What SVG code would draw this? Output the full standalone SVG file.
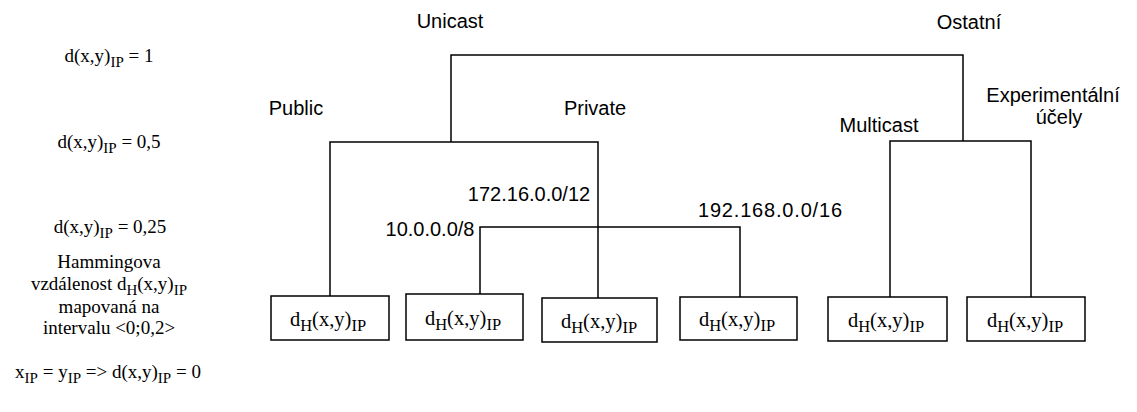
<svg xmlns="http://www.w3.org/2000/svg" width="1137" height="412" viewBox="0 0 1137 412">
  <style>
    .serif { font-family: "Liberation Serif", "Times New Roman", serif; font-size: 19px; fill: #000; }
    .sub { font-size: 15px; }
    .leaf { font-family: "Liberation Serif", "Times New Roman", serif; font-size: 20.5px; fill: #000; }
    .leaf .sub { font-size: 16.5px; }
    .sans { font-family: "Liberation Sans", Arial, Helvetica, sans-serif; font-size: 20px; fill: #000; }
    .edge { fill: none; stroke: #000; stroke-width: 1.5; }
    .box { fill: #fff; stroke: #000; stroke-width: 1.5; }
  </style>
  <rect width="1137" height="412" fill="#fff"/>

  <!-- distance scale on the left -->
  <g id="scale" class="serif" text-anchor="middle">
    <text x="109" y="62">d(x,y)<tspan class="sub" dy="5">IP</tspan><tspan dy="-5"> = 1</tspan></text>
    <text x="109" y="148">d(x,y)<tspan class="sub" dy="5">IP</tspan><tspan dy="-5"> = 0,5</tspan></text>
    <text x="110" y="233">d(x,y)<tspan class="sub" dy="5">IP</tspan><tspan dy="-5"> = 0,25</tspan></text>
    <text x="109" y="268">Hammingova</text>
    <text x="109" y="290">vzdálenost d<tspan class="sub" dy="5">H</tspan><tspan dy="-5">(x,y)</tspan><tspan class="sub" dy="5">IP</tspan></text>
    <text x="109" y="313">mapovaná na</text>
    <text x="109" y="334">intervalu &lt;0;0,2&gt;</text>
    <text x="108" y="378">x<tspan class="sub" dy="5">IP</tspan><tspan dy="-5"> =  y</tspan><tspan class="sub" dy="5">IP</tspan><tspan dy="-5"> =&gt; d(x,y)</tspan><tspan class="sub" dy="5">IP</tspan><tspan dy="-5"> = 0</tspan></text>
  </g>

  <!-- connectors of the address tree -->
  <g id="connectors" class="edge">
    <path d="M451,142 V55 H963 V141"/>
    <path d="M330,296 V142 H598 V298"/>
    <path d="M480,294 V227 H740 V297"/>
    <path d="M890,297 V141 H1031 V297"/>
  </g>

  <!-- branch labels -->
  <g id="labels" class="sans" text-anchor="middle">
    <text x="450" y="28">Unicast</text>
    <text x="969" y="29">Ostatní</text>
    <text x="296" y="115">Public</text>
    <text x="595" y="115">Private</text>
    <text x="879" y="132">Multicast</text>
    <text x="1053" y="102">Experimentální</text>
    <text x="1059" y="124">účely</text>
    <text x="529" y="201">172.16.0.0/12</text>
    <text x="430" y="236">10.0.0.0/8</text>
    <text x="770" y="217" textLength="144" lengthAdjust="spacing">192.168.0.0/16</text>
  </g>

  <!-- leaf nodes -->
  <g id="leaf1">
    <rect class="box" x="271" y="296" width="118" height="44"/>
    <text class="leaf" x="328" y="326" text-anchor="middle">d<tspan class="sub" dy="5">H</tspan><tspan dy="-5">(x,y)</tspan><tspan class="sub" dy="5">IP</tspan></text>
  </g>
  <g id="leaf2">
    <rect class="box" x="406" y="294" width="117" height="46"/>
    <text class="leaf" x="463" y="325" text-anchor="middle">d<tspan class="sub" dy="5">H</tspan><tspan dy="-5">(x,y)</tspan><tspan class="sub" dy="5">IP</tspan></text>
  </g>
  <g id="leaf3">
    <rect class="box" x="542" y="298" width="115" height="44"/>
    <text class="leaf" x="599" y="328" text-anchor="middle">d<tspan class="sub" dy="5">H</tspan><tspan dy="-5">(x,y)</tspan><tspan class="sub" dy="5">IP</tspan></text>
  </g>
  <g id="leaf4">
    <rect class="box" x="680" y="297" width="117" height="43"/>
    <text class="leaf" x="737" y="326" text-anchor="middle">d<tspan class="sub" dy="5">H</tspan><tspan dy="-5">(x,y)</tspan><tspan class="sub" dy="5">IP</tspan></text>
  </g>
  <g id="leaf5">
    <rect class="box" x="828" y="297" width="119" height="44"/>
    <text class="leaf" x="886" y="327" text-anchor="middle">d<tspan class="sub" dy="5">H</tspan><tspan dy="-5">(x,y)</tspan><tspan class="sub" dy="5">IP</tspan></text>
  </g>
  <g id="leaf6">
    <rect class="box" x="967" y="297" width="118" height="44"/>
    <text class="leaf" x="1025" y="327" text-anchor="middle">d<tspan class="sub" dy="5">H</tspan><tspan dy="-5">(x,y)</tspan><tspan class="sub" dy="5">IP</tspan></text>
  </g>
</svg>
